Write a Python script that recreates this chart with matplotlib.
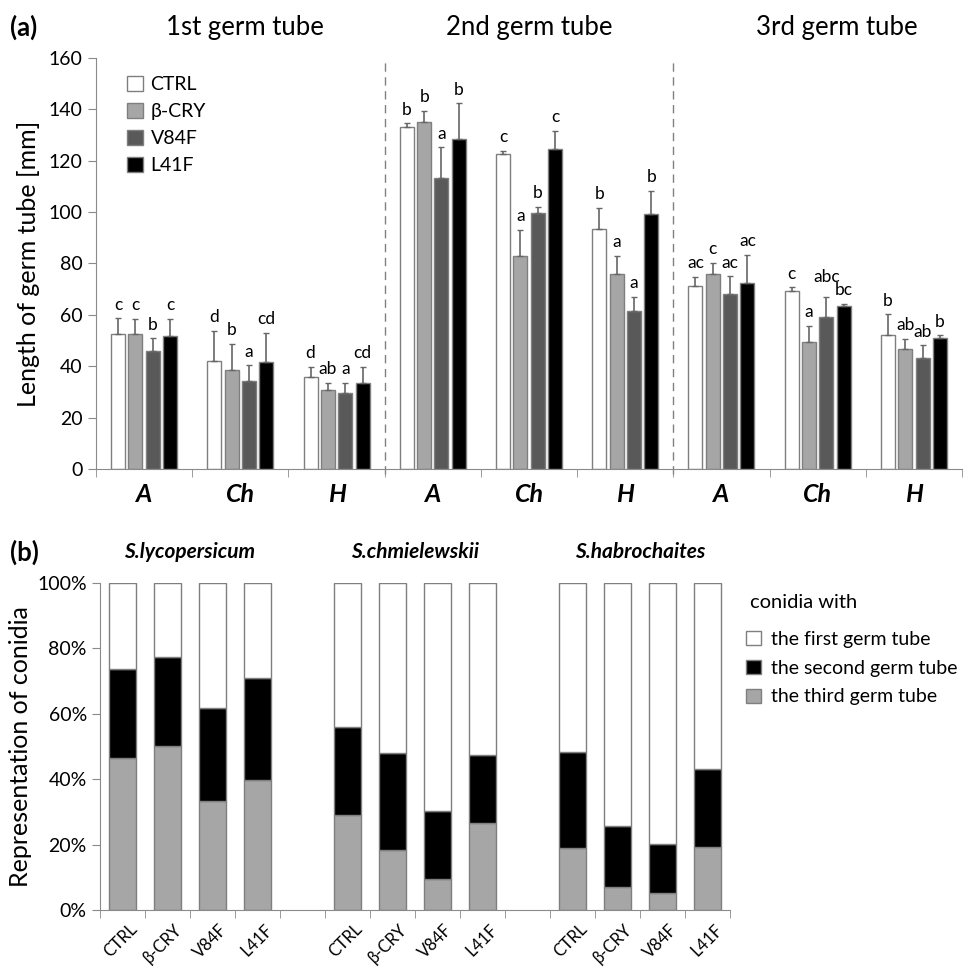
import numpy as np
import matplotlib.pyplot as plt
from matplotlib.patches import Patch
from matplotlib.transforms import blended_transform_factory

plt.rcParams['font.family'] = ['Lato', 'DejaVu Sans']

# (a) Laenge der Keimschlaeuche, 3 Schlaeuche x 3 Wirte
tube_titles = ['1st germ tube', '2nd germ tube', '3rd germ tube']
hosts = ['A', 'Ch', 'H']
treatments = ['CTRL', 'β-CRY', 'V84F', 'L41F']

ctrl_mean = [52.5, 42.1, 35.9, 133.0, 122.6, 93.5, 71.3, 69.3, 52.1]
ctrl_err = [6.2, 11.6, 3.9, 1.5, 1.3, 8.1, 3.4, 1.4, 8.1]
bcry_mean = [52.5, 38.5, 30.7, 134.9, 83.0, 75.9, 75.9, 49.5, 46.8]
bcry_err = [5.9, 10.1, 2.9, 4.5, 10.0, 7.0, 4.3, 6.3, 3.9]
v84f_mean = [46.0, 34.2, 29.7, 113.1, 99.5, 61.6, 68.0, 59.3, 43.1]
v84f_err = [4.8, 6.2, 3.9, 12.1, 2.6, 5.4, 7.0, 7.7, 5.0]
l41f_mean = [51.8, 41.8, 33.6, 128.3, 124.6, 99.1, 72.3, 63.4, 51.1]
l41f_err = [6.6, 11.1, 6.2, 14.0, 7.0, 9.1, 11.0, 0.9, 1.0]

ctrl_letters = ['c', 'd', 'd', 'b', 'c', 'b', 'ac', 'c', 'b']
bcry_letters = ['c', 'b', 'ab', 'b', 'a', 'a', 'c', 'a', 'ab']
v84f_letters = ['b', 'a', 'a', 'a', 'b', 'a', 'ac', 'abc', 'ab']
l41f_letters = ['c', 'cd', 'cd', 'b', 'c', 'b', 'ac', 'bc', 'b']

# (b) Anteil der Konidien mit 1./2./3. Keimschlauch
species = ['S.lycopersicum', 'S.chmielewskii', 'S.habrochaites']
tube_labels = ['the first germ tube', 'the second germ tube', 'the third germ tube']
third_pct = [46.3, 50.2, 33.2, 39.8, 29.0, 18.3, 9.5, 26.6, 18.9, 6.9, 5.1, 19.2]
second_pct = [27.3, 27.1, 28.4, 31.1, 26.8, 29.6, 20.8, 20.8, 29.3, 18.7, 15.0, 23.8]
first_pct = [100 - a - b for a, b in zip(third_pct, second_pct)]

means = [ctrl_mean, bcry_mean, v84f_mean, l41f_mean]
errs = [ctrl_err, bcry_err, v84f_err, l41f_err]
letters = [ctrl_letters, bcry_letters, v84f_letters, l41f_letters]
colors = ['white', '#a6a6a6', '#595959', 'black']
edge = '#7f7f7f'
axis_col = '#8a8a8a'

fig = plt.figure(figsize=(9.68, 9.71), dpi=100)

# ---------- (a) ----------
ax = fig.add_axes([0.0992, 0.5170, 0.8946, 0.4233])
x = np.arange(9)
pitch, width = 0.18, 0.146
for i in range(4):
    xi = x + (i - 1.5) * pitch
    m = np.array(means[i])
    e = np.array(errs[i])
    ax.bar(xi, m, width, color=colors[i], edgecolor=edge, linewidth=1.0,
           label=treatments[i], zorder=2)
    ax.errorbar(xi, m, yerr=[np.zeros_like(e), e], fmt='none', ecolor='#666666',
                elinewidth=1.2, capsize=2.5, capthick=1.0, zorder=3)
    for j, (xx, top, lab) in enumerate(zip(xi, m + e, letters[i])):
        dy = 2.2
        if lab == 'abc':  # im Original etwas hoeher gesetzt
            dy = 4.5
        ax.text(xx, top + dy, lab, ha='center', va='bottom', fontsize=12.5)

ax.set_xlim(-0.5, 8.5)
ax.set_ylim(0, 160)
ax.set_yticks(np.arange(0, 161, 20))
ax.set_xticks(x)
ax.set_xticklabels(hosts * 3, fontsize=18, fontweight='bold', fontstyle='italic')
ax.set_xticks(np.arange(-0.5, 9, 1), minor=True)
ax.tick_params(axis='x', which='major', length=0, pad=10)
ax.tick_params(axis='x', which='minor', length=6, direction='out', color=axis_col)
ax.tick_params(axis='y', labelsize=14, length=6, color=axis_col)
for s in ['top', 'right']:
    ax.spines[s].set_visible(False)
for s in ['left', 'bottom']:
    ax.spines[s].set_color(axis_col)
ax.set_ylabel('Length of germ tube [mm]', fontsize=18, labelpad=6)

for xd in [2.5, 5.5]:
    ax.plot([xd, xd], [-2, 160], ls=(0, (6, 4)), color='#808080', lw=1.0,
            clip_on=False, zorder=1)

trans = blended_transform_factory(ax.transData, fig.transFigure)
for xt, t in zip([1.05, 4.0, 7.2], tube_titles):
    ax.text(xt, 0.972, t, transform=trans, ha='center', va='center', fontsize=18.5)
fig.text(0.010, 0.972, '(a)', fontsize=18.5, fontweight='bold', va='center')

leg = ax.legend(loc='upper left', bbox_to_anchor=(0.027, 0.975), frameon=False,
                fontsize=14, handlelength=0.8, handleheight=0.8, handletextpad=0.4,
                labelspacing=0.5, borderaxespad=0)

# ---------- (b) ----------
bx = fig.add_axes([0.1033, 0.0628, 0.6508, 0.3371])
pos = np.array([0, 1, 2, 3, 5, 6, 7, 8, 10, 11, 12, 13])
bw = 0.62
third = np.array(third_pct)
second = np.array(second_pct)
first = np.array(first_pct)
bx.bar(pos, third, bw, color='#a6a6a6', edgecolor=edge, lw=1.0, zorder=2)
bx.bar(pos, second, bw, bottom=third, color='black', edgecolor=edge, lw=1.0, zorder=2)
bx.bar(pos, first, bw, bottom=third + second, color='white', edgecolor=edge,
       lw=1.0, zorder=2)

bx.set_xlim(-0.5, 13.5)
bx.set_ylim(0, 100)
bx.set_yticks(np.arange(0, 101, 20))
bx.set_yticklabels([f'{v}%' for v in range(0, 101, 20)])
bx.set_xticks(pos + 0.15)
bx.set_xticklabels(treatments * 3, rotation=45, ha='right', rotation_mode='anchor',
                   fontsize=12)
bx.set_xticks(np.arange(-0.5, 14, 1), minor=True)
bx.tick_params(axis='x', which='major', length=0, pad=8)
bx.tick_params(axis='x', which='minor', length=6, direction='out', color=axis_col)
bx.tick_params(axis='y', labelsize=14, length=6, color=axis_col)
for s in ['top', 'right']:
    bx.spines[s].set_visible(False)
for s in ['left', 'bottom']:
    bx.spines[s].set_color(axis_col)
bx.set_ylabel('Representation of conidia', fontsize=18, labelpad=4)

trans_b = blended_transform_factory(bx.transData, fig.transFigure)
for xt, sp in zip([1.5, 6.5, 11.5], species):
    bx.text(xt, 0.431, sp, transform=trans_b, ha='center', va='center',
            fontsize=15, fontweight='bold', fontstyle='italic')
fig.text(0.010, 0.431, '(b)', fontsize=18.5, fontweight='bold', va='center')

handles = [Patch(facecolor='white', edgecolor=edge),
           Patch(facecolor='black', edgecolor=edge),
           Patch(facecolor='#a6a6a6', edgecolor=edge)]
fig.text(0.775, 0.379, 'conidia with', fontsize=14.5, va='center')
fig.legend(handles, tube_labels, loc='upper left', bbox_to_anchor=(0.771, 0.350),
           frameon=False, fontsize=14, handlelength=0.75, handleheight=0.75,
           handletextpad=0.5, labelspacing=0.6, borderaxespad=0, borderpad=0)

fig.savefig('out.png', dpi=100)
